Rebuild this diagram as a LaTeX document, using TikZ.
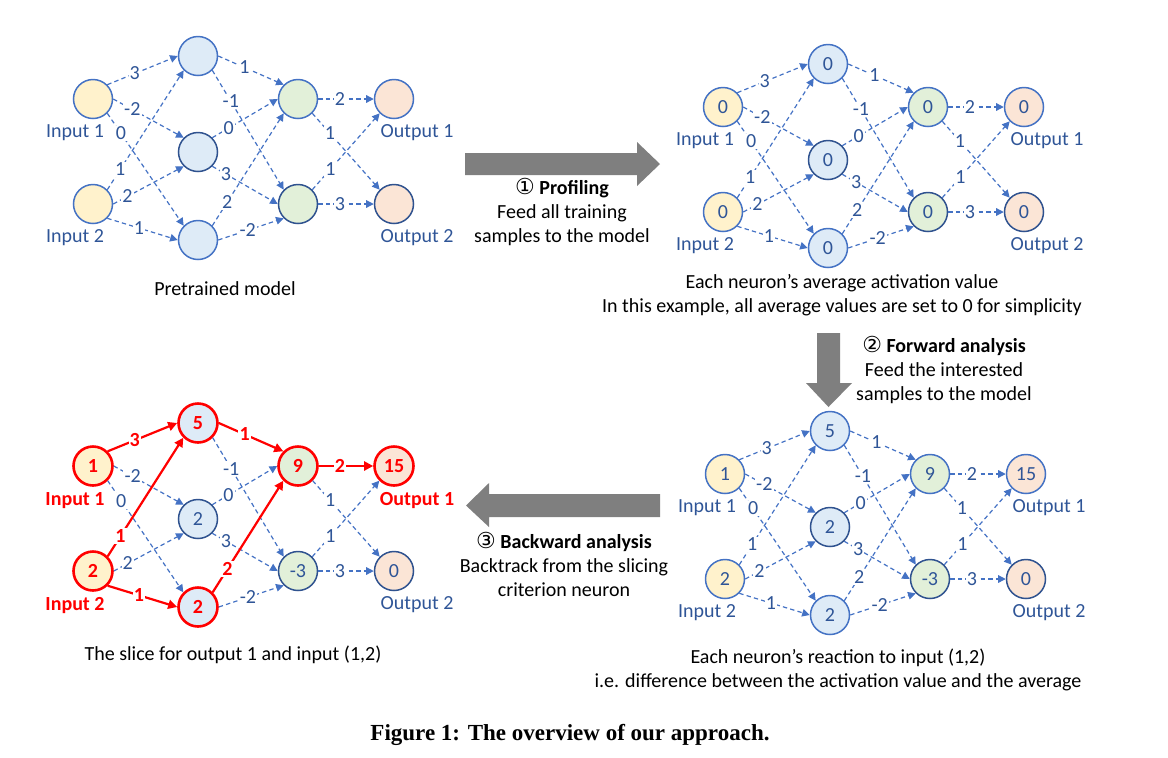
\documentclass[tikz,border=0pt]{standalone}
\usepackage{fontspec}
\setsansfont{Carlito}
\newfontfamily\circfont{DejaVu Sans}
\newfontfamily\capfont{Liberation Serif}
\usetikzlibrary{arrows.meta, positioning}
\definecolor{inpfill}{HTML}{FFF2CC}
\definecolor{hidfill}{HTML}{DEEBF7}
\definecolor{midfill}{HTML}{E2F0D9}
\definecolor{outfill}{HTML}{FBE5D6}
\definecolor{netline}{HTML}{4472C4}
\definecolor{netdark}{HTML}{2F528F}
\definecolor{nettext}{HTML}{2F5597}
\definecolor{hotred}{RGB}{255,0,0}
\definecolor{arrowgray}{RGB}{127,127,127}
\newcommand{\netfont}{\sffamily\fontsize{10}{12}\selectfont}
\newcommand{\circnum}[1]{{\circfont\fontsize{11}{12}\selectfont #1}}
% source/anchor/target/anchor/weight/pos
\newcommand{\wlist}{in1/45/h1/180/3/.39, in1/0/h2/135/-2/.27, in1/-45/h3/135/0/.18,
  in2/45/h1/225/1/.17, in2/0/h2/225/2/.2, in2/-45/h3/180/1/.45,
  h1/0/g1/135/1/.4, h1/-45/g2/135/-1/.26, h2/45/g1/180/0/.25, h2/-45/g2/180/3/.21,
  h3/45/g1/225/2/.21, h3/0/g2/225/-2/.45,
  g1/0/o1/180/2/.39, g1/-45/o2/135/1/.26, g2/45/o1/225/1/.27, g2/0/o2/180/3/.39}
\newcommand{\coldlist}{in1/0/h2/135/-2/.27, in1/-45/h3/135/0/.18, in2/0/h2/225/2/.2,
  h1/-45/g2/135/-1/.26, h2/45/g1/180/0/.25, h2/-45/g2/180/3/.21, h3/0/g2/225/-2/.45,
  g1/-45/o2/135/1/.26, g2/45/o1/225/1/.27, g2/0/o2/180/3/.39}
\newcommand{\hotlist}{in1/45/h1/180/3/.39, in2/45/h1/225/1/.17, in2/-45/h3/180/1/.45,
  h1/0/g1/135/1/.4, h3/45/g1/225/2/.21, g1/0/o1/180/2/.39}

\begin{document}
\begin{tikzpicture}[x=0.5pt, y=-0.5pt,
    neuron/.style={circle, draw=netline, line width=0.75pt, minimum size=19.5pt,
                 inner sep=0pt, text=nettext, font=\netfont},
    inunit/.style={neuron, fill=inpfill},
    hidunit/.style={neuron, fill=hidfill},
    midunit/.style={neuron, fill=midfill},
    outunit/.style={neuron, fill=outfill},
    deep/.style={draw=netdark},
    hot/.style={draw=hotred, line width=1.3pt, text=hotred, font=\netfont\bfseries},
    tag/.style={text=nettext, font=\netfont, inner sep=1.5pt, label distance=1pt},
    hottag/.style={tag, text=hotred, font=\netfont\bfseries},
    link/.style={draw=netline, line width=0.6pt, dash pattern=on 2.2pt off 1.6pt,
                 -{Triangle[length=3.8pt,width=3.8pt]}},
    hotlink/.style={draw=hotred, line width=1.1pt, -{Triangle[length=4.5pt,width=4.5pt]}},
    weight/.style={text=nettext, font=\netfont, fill=white, inner sep=0.6pt},
    hotweight/.style={weight, text=hotred, font=\netfont\bfseries},
    note/.style={font=\netfont, align=center, inner sep=0pt},
    bigarrow/.style={fill=arrowgray}
]
    \useasboundingbox (0,0) rectangle (1168,757);

    % pretrained model
    \node[inunit, label={[tag,xshift=-9pt]below:Input 1}] (pre-in1) at (93,99) {};
    \node[inunit, label={[tag,xshift=-9pt]below:Input 2}] (pre-in2) at (93,204) {};
    \node[hidunit] (pre-h1) at (198,56) {};
    \node[hidunit, deep] (pre-h2) at (198,152) {};
    \node[hidunit] (pre-h3) at (198,240) {};
    \node[midunit] (pre-g1) at (298,99) {};
    \node[midunit, deep] (pre-g2) at (298,204) {};
    \node[outunit, label={[tag,xshift=11.5pt]below:Output 1}] (pre-o1) at (394,99) {};
    \node[outunit, deep, label={[tag,xshift=11.5pt]below:Output 2}] (pre-o2) at (394,204) {};
    \foreach \src/\sa/\dst/\da/\wt/\ps in \wlist
        \draw[link] (pre-\src.\sa) -- node[weight, pos=\ps] {\wt} (pre-\dst.\da);
    \node[note] (pre-cap) at (225,289) {Pretrained model};

    % average activation
    \begin{scope}[shift={(630,8)}]
    \node[inunit, label={[tag,xshift=-9pt]below:Input 1}] (avg-in1) at (93,99) {0};
    \node[inunit, label={[tag,xshift=-9pt]below:Input 2}] (avg-in2) at (93,204) {0};
    \node[hidunit] (avg-h1) at (198,56) {0};
    \node[hidunit, deep] (avg-h2) at (198,152) {0};
    \node[hidunit] (avg-h3) at (198,240) {0};
    \node[midunit] (avg-g1) at (298,99) {0};
    \node[midunit, deep] (avg-g2) at (298,204) {0};
    \node[outunit, label={[tag,xshift=11.5pt]below:Output 1}] (avg-o1) at (394,99) {0};
    \node[outunit, deep, label={[tag,xshift=11.5pt]below:Output 2}] (avg-o2) at (394,204) {0};
    \foreach \src/\sa/\dst/\da/\wt/\ps in \wlist
        \draw[link] (avg-\src.\sa) -- node[weight, pos=\ps] {\wt} (avg-\dst.\da);
    \end{scope}
    \node[note] (avg-cap) at (842,295) {Each neuron’s average activation value\\
        In this example, all average values are set to 0 for simplicity};

    % reaction to input (1,2)
    \begin{scope}[shift={(632,375)}]
    \node[inunit, label={[tag,xshift=-9pt]below:Input 1}] (rea-in1) at (93,99) {1};
    \node[inunit, label={[tag,xshift=-9pt]below:Input 2}] (rea-in2) at (93,204) {2};
    \node[hidunit] (rea-h1) at (198,56) {5};
    \node[hidunit, deep] (rea-h2) at (198,152) {2};
    \node[hidunit] (rea-h3) at (198,240) {2};
    \node[midunit] (rea-g1) at (298,99) {9};
    \node[midunit, deep] (rea-g2) at (298,204) {-3};
    \node[outunit, label={[tag,xshift=11.5pt]below:Output 1}] (rea-o1) at (394,99) {15};
    \node[outunit, deep, label={[tag,xshift=11.5pt]below:Output 2}] (rea-o2) at (394,204) {0};
    \foreach \src/\sa/\dst/\da/\wt/\ps in \wlist
        \draw[link] (rea-\src.\sa) -- node[weight, pos=\ps] {\wt} (rea-\dst.\da);
    \end{scope}
    \node[note] (rea-cap) at (838,670) {Each neuron’s reaction to input (1,2)\\
        i.e. difference between the activation value and the average};

    % slice
    \begin{scope}[shift={(0,367)}]
    \node[inunit, hot, label={[hottag,xshift=-9pt]below:Input 1}] (sli-in1) at (93,99) {1};
    \node[inunit, hot, label={[hottag,xshift=-9pt]below:Input 2}] (sli-in2) at (93,204) {2};
    \node[hidunit, hot] (sli-h1) at (198,56) {5};
    \node[hidunit, deep] (sli-h2) at (198,152) {2};
    \node[hidunit, hot] (sli-h3) at (198,240) {2};
    \node[midunit, hot] (sli-g1) at (298,99) {9};
    \node[midunit, deep] (sli-g2) at (298,204) {-3};
    \node[outunit, hot, label={[hottag,xshift=11.5pt]below:Output 1}] (sli-o1) at (394,99) {15};
    \node[outunit, deep, label={[tag,xshift=11.5pt]below:Output 2}] (sli-o2) at (394,204) {0};
    \foreach \src/\sa/\dst/\da/\wt/\ps in \coldlist
        \draw[link] (sli-\src.\sa) -- node[weight, pos=\ps] {\wt} (sli-\dst.\da);
    \foreach \src/\sa/\dst/\da/\wt/\ps in \hotlist
        \draw[hotlink] (sli-\src.\sa) -- node[hotweight, pos=\ps] {\wt} (sli-\dst.\da);
    \end{scope}
    \node[note] (sli-cap) at (233,655) {The slice for output 1 and input (1,2)};

    % big arrows between the panels
    \fill[bigarrow] (465,153) -- (637,153) -- (637,142) -- (660,164) -- (637,186)
        -- (637,175) -- (465,175) -- cycle;
    \node[note] (prof) at (562,212) {\circnum{①} \textbf{Profiling}\\Feed all training\\
        samples to the model};
    \fill[bigarrow] (817,333) -- (840,333) -- (840,383) -- (852,383) -- (828.5,407)
        -- (806,383) -- (817,383) -- cycle;
    \node[note] (fwd) at (944,370) {\circnum{②} \textbf{Forward analysis}\\
        Feed the interested\\samples to the model};
    \fill[bigarrow] (660,494) -- (489,494) -- (489,483) -- (466,505.5) -- (489,527)
        -- (489,517) -- (660,517) -- cycle;
    \node[note] (bwd) at (564,564) {\circnum{③} \textbf{Backward analysis}\\
        Backtrack from the slicing\\criterion neuron};

    \node[inner sep=0pt, font=\capfont\bfseries\fontsize{11.5}{14}\selectfont]
        (figcap) at (570,735) {Figure 1: The overview of our approach.};
\end{tikzpicture}
\end{document}
